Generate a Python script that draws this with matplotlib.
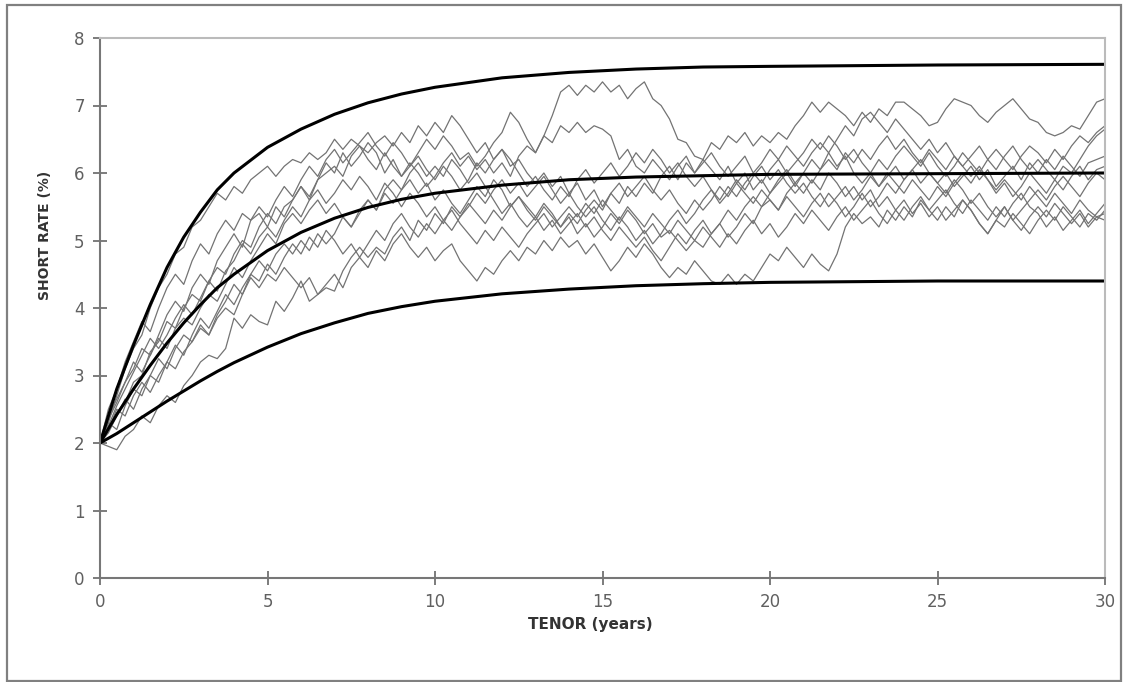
import numpy as np
import matplotlib.pyplot as plt
from matplotlib.patches import Rectangle

# === Smooth curves: expected short rate and the upper / lower bands ===
band_t = [0, 0.5, 1, 1.5, 2, 2.5, 3, 3.5, 4, 5, 6, 7, 8, 9, 10, 12, 14, 16, 18, 20, 25, 30]
upper = [2.0, 2.8, 3.45, 4.05, 4.6, 5.05, 5.42, 5.75, 6.0, 6.38, 6.65, 6.87, 7.04, 7.17,
         7.27, 7.41, 7.49, 7.54, 7.57, 7.58, 7.6, 7.61]
mean = [2.0, 2.42, 2.8, 3.15, 3.48, 3.78, 4.05, 4.3, 4.5, 4.85, 5.12, 5.33, 5.49, 5.61,
        5.7, 5.82, 5.9, 5.94, 5.96, 5.98, 5.99, 6.0]
lower = [2.0, 2.14, 2.3, 2.46, 2.62, 2.77, 2.92, 3.06, 3.19, 3.42, 3.62, 3.78, 3.92, 4.02,
         4.1, 4.21, 4.28, 4.33, 4.36, 4.38, 4.4, 4.4]

# === Simulated paths, quarterly steps from 0 to 30 years ===
tenor = np.linspace(0, 30, 121)

path1 = [2.0, 2.3, 2.7, 3.1, 3.4, 3.6, 4.0, 4.3, 4.5, 4.8, 4.9, 5.2, 5.3, 5.5, 5.7, 5.6,
         5.8, 5.7, 5.9, 6.0, 6.1, 5.95, 6.1, 6.2, 6.15, 6.3, 6.2, 6.3, 6.5, 6.35, 6.5, 6.4,
         6.3, 6.45, 6.55, 6.4, 6.6, 6.45, 6.7, 6.55, 6.75, 6.6, 6.85, 6.7, 6.5, 6.3, 6.45, 6.2,
         6.35, 6.1, 6.2, 6.0, 5.85, 6.0, 5.8, 5.95, 5.7, 5.85, 5.6, 5.75, 5.5, 5.7, 5.55, 5.8,
         5.65, 5.85, 5.7, 5.95, 6.1, 5.9, 6.15, 6.0, 6.2, 6.05, 5.9, 6.1, 5.85, 6.0, 5.75, 5.9,
         5.7, 5.85, 6.0, 5.8, 6.0, 6.2, 6.05, 6.3, 6.1, 6.25, 6.0, 5.85, 6.0, 5.8, 5.95, 6.1,
         5.9, 6.05, 6.2, 6.0, 5.85, 6.0, 5.8, 5.95, 6.1, 5.9, 6.05, 5.8, 5.95, 6.1, 5.9, 6.15,
         6.0, 6.2, 6.05, 6.25, 6.1, 5.95, 6.15, 6.2, 6.25]
path2 = [2.0, 2.2, 2.45, 2.6, 2.9, 3.0, 3.35, 3.5, 3.8, 3.7, 4.0, 4.2, 4.1, 4.4, 4.6, 4.5,
         4.8, 5.0, 4.9, 5.2, 5.4, 5.25, 5.5, 5.6, 5.8, 5.65, 5.9, 6.0, 6.1, 5.95, 6.25, 6.4,
         6.2, 6.05, 6.3, 6.1, 5.95, 6.15, 6.0, 5.8, 5.95, 6.15, 6.3, 6.1, 6.25, 6.05, 6.2, 6.0,
         6.15, 5.95, 6.25, 6.4, 6.3, 6.55, 6.85, 7.2, 7.3, 7.15, 7.3, 7.2, 7.35, 7.2, 7.3, 7.1,
         7.25, 7.35, 7.1, 7.0, 6.8, 6.5, 6.45, 6.25, 6.2, 6.45, 6.35, 6.55, 6.45, 6.6, 6.4, 6.55,
         6.45, 6.6, 6.5, 6.7, 6.85, 7.05, 6.9, 7.05, 6.95, 6.85, 6.7, 6.9, 6.75, 6.95, 6.85, 7.05,
         7.05, 6.95, 6.85, 6.7, 6.75, 6.95, 7.1, 7.05, 7.0, 6.85, 6.75, 6.9, 7.0, 7.1, 6.95, 6.8,
         6.75, 6.6, 6.55, 6.6, 6.7, 6.65, 6.85, 7.05, 7.1]
path3 = [2.0, 2.35, 2.6, 2.9, 3.1, 3.4, 3.3, 3.6, 3.9, 4.1, 3.95, 4.3, 4.5, 4.35, 4.7, 4.9,
         5.1, 4.9, 5.3, 5.4, 5.2, 5.5, 5.35, 5.6, 5.8, 5.6, 5.9, 6.15, 6.0, 6.3, 6.1, 6.25,
         6.45, 6.3, 6.0, 6.2, 5.95, 6.1, 6.3, 6.5, 6.35, 6.55, 6.4, 6.2, 6.3, 6.1, 6.25, 6.45,
         6.6, 6.9, 6.75, 6.5, 6.3, 6.55, 6.45, 6.7, 6.6, 6.75, 6.6, 6.7, 6.65, 6.55, 6.2, 6.35,
         6.1, 6.0, 6.2, 6.05, 5.9, 6.1, 6.25, 6.0, 6.15, 6.3, 6.1, 5.95, 6.1, 6.25, 6.0, 6.15,
         6.35, 6.2, 6.4, 6.25, 6.1, 6.3, 6.45, 6.3, 6.5, 6.7, 6.55, 6.8, 6.9, 6.75, 6.6, 6.8,
         6.65, 6.5, 6.35, 6.5, 6.3, 6.45, 6.25, 6.1, 6.25, 6.4, 6.2, 6.35, 6.2, 6.05, 6.25, 6.4,
         6.3, 6.15, 6.35, 6.2, 6.4, 6.55, 6.45, 6.6, 6.7]
path4 = [2.0, 1.95, 1.9, 2.1, 2.2, 2.4, 2.3, 2.55, 2.7, 2.6, 2.85, 3.0, 3.2, 3.3, 3.25, 3.4,
         3.85, 3.7, 3.9, 3.8, 3.75, 4.1, 3.95, 4.15, 4.4, 4.1, 4.2, 4.3, 4.25, 4.55, 4.75, 4.9,
         4.75, 4.9, 4.8, 5.05, 5.2, 5.0, 5.3, 5.15, 5.4, 5.25, 5.5, 5.35, 5.55, 5.4, 5.25, 5.45,
         5.3, 5.5, 5.65, 5.5, 5.35, 5.55, 5.4, 5.2, 5.35, 5.1, 5.25, 5.05, 5.2, 5.4, 5.25, 5.45,
         5.3, 5.1, 5.25, 5.05, 5.15, 5.0, 4.85, 5.0, 4.9, 5.1, 5.25, 5.05, 5.2, 5.4, 5.25, 5.5,
         5.6, 5.45, 5.7, 5.85, 5.7, 5.9, 5.75, 6.0, 5.85, 5.65, 5.8, 5.6, 5.75, 5.5, 5.65, 5.45,
         5.6, 5.4, 5.55, 5.35, 5.5, 5.3, 5.45, 5.6, 5.45, 5.25, 5.1, 5.3, 5.2, 5.4, 5.25, 5.1,
         5.3, 5.45, 5.3, 5.5, 5.35, 5.2, 5.4, 5.3, 5.45]
path5 = [2.0, 2.2, 2.5, 2.4, 2.7, 2.9, 2.75, 3.0, 3.2, 3.1, 3.35, 3.5, 3.7, 3.6, 3.85, 4.0,
         3.9, 4.2, 4.45, 4.3, 4.5, 4.4, 4.6, 4.45, 4.3, 4.45, 4.2, 4.35, 4.5, 4.3, 4.6, 4.75,
         4.6, 4.85, 4.7, 4.95, 5.1, 4.9, 4.75, 4.9, 4.7, 4.85, 4.95, 4.7, 4.55, 4.4, 4.6, 4.5,
         4.7, 4.85, 4.7, 4.9, 4.8, 5.0, 4.85, 5.05, 4.9, 5.0, 4.8, 4.95, 4.75, 4.55, 4.7, 4.9,
         4.75, 4.95, 4.8, 4.6, 4.45, 4.6, 4.5, 4.7, 4.55, 4.4, 4.35, 4.5, 4.35, 4.5, 4.4, 4.6,
         4.8, 4.7, 4.9, 4.75, 4.6, 4.8, 4.65, 4.55, 4.8, 5.2, 5.4, 5.25, 5.35, 5.2, 5.45, 5.3,
         5.5, 5.35, 5.6, 5.45, 5.3, 5.5, 5.35, 5.6, 5.45, 5.25, 5.1, 5.3, 5.5, 5.3, 5.15, 5.35,
         5.5, 5.35, 5.55, 5.4, 5.25, 5.4, 5.2, 5.35, 5.3]
path6 = [2.0, 2.4, 2.65, 2.9, 3.2, 3.05, 3.3, 3.55, 3.4, 3.7, 3.85, 3.75, 4.0, 4.2, 4.1, 4.35,
         4.6, 4.45, 4.7, 4.9, 5.1, 4.95, 5.25, 5.4, 5.25, 5.45, 5.6, 5.4, 5.55, 5.35, 5.2, 5.4,
         5.6, 5.45, 5.7, 5.55, 5.75, 5.9, 5.7, 5.85, 5.6, 5.75, 5.55, 5.4, 5.6, 5.8, 5.65, 5.9,
         5.75, 5.5, 5.65, 5.45, 5.3, 5.5, 5.35, 5.2, 5.4, 5.25, 5.45, 5.6, 5.45, 5.7, 5.85, 5.65,
         5.8, 5.95, 5.75, 5.6, 5.75, 5.55, 5.4, 5.6, 5.45, 5.6, 5.8, 5.65, 5.85, 5.7, 5.55, 5.75,
         5.6, 5.45, 5.65, 5.5, 5.35, 5.55, 5.7, 5.5, 5.65, 5.8, 5.6, 5.75, 5.95, 5.8, 6.0, 5.85,
         5.7, 5.9, 5.75, 5.6, 5.8, 5.65, 5.85, 6.0, 5.85, 6.05, 5.9, 5.7, 5.85, 5.65, 5.8, 6.0,
         5.85, 5.7, 5.9, 5.75, 5.95, 6.1, 5.9, 6.05, 6.1]
path7 = [2.0, 2.3, 2.2, 2.55, 2.8, 2.7, 3.0, 3.25, 3.1, 3.4, 3.6, 3.5, 3.75, 3.6, 3.9, 4.1,
         4.35, 4.2, 4.5, 4.7, 4.55, 4.8, 4.95, 4.8, 5.0, 4.85, 5.1, 4.95, 5.1, 5.35, 5.2, 5.45,
         5.6, 5.45, 5.75, 5.9, 5.75, 6.0, 6.15, 5.95, 6.1, 5.95, 6.2, 6.05, 5.85, 6.0, 5.8, 5.6,
         5.4, 5.55, 5.35, 5.2, 5.35, 5.15, 5.3, 5.1, 5.25, 5.4, 5.2, 5.35, 5.15, 5.0, 5.2, 5.05,
         4.9, 5.05, 4.85, 4.7, 4.9, 5.1, 4.95, 5.15, 5.3, 5.1, 5.25, 5.45, 5.3, 5.5, 5.65, 5.5,
         5.7, 5.9, 6.05, 5.85, 6.0, 5.85, 6.05, 6.2, 6.05, 6.3, 6.15, 6.35, 6.2, 6.4, 6.55, 6.35,
         6.5, 6.3, 6.15, 6.35, 6.2, 6.05, 6.25, 6.1, 5.95, 6.1, 5.9, 5.75, 5.9, 5.75, 5.6, 5.8,
         5.65, 5.5, 5.7, 5.55, 5.4, 5.6, 5.45, 5.35, 5.4]
path8 = [2.0, 2.5, 2.8, 3.2, 3.5, 3.8, 3.65, 4.0, 4.3, 4.5, 4.35, 4.7, 4.95, 4.8, 5.1, 5.3,
         5.15, 5.4, 5.3, 5.5, 5.35, 5.6, 5.8, 5.65, 5.9, 6.1, 5.95, 6.2, 6.35, 6.15, 6.3, 6.45,
         6.6, 6.4, 6.25, 6.45, 6.3, 6.1, 6.25, 6.05, 5.9, 6.1, 5.95, 5.75, 5.9, 6.15, 6.0, 6.2,
         6.35, 6.2, 6.0, 5.8, 5.95, 5.75, 5.6, 5.8, 5.65, 5.9, 6.05, 5.85, 6.0, 6.15, 5.95, 6.1,
         6.3, 6.15, 6.35, 6.2, 6.0, 6.15, 5.95, 5.8, 5.95, 5.75, 5.6, 5.8, 5.65, 5.85, 6.0, 5.85,
         6.05, 6.2, 6.0, 6.15, 6.3, 6.5, 6.35, 6.55, 6.4, 6.2, 6.35, 6.15, 6.0, 6.2, 6.05, 6.25,
         6.4, 6.25, 6.1, 6.3, 6.1, 5.95, 6.1, 6.3, 6.15, 6.0, 6.2, 6.05, 6.25, 6.4, 6.2, 6.05,
         6.2, 6.05, 5.9, 6.1, 6.0, 6.2, 6.4, 6.55, 6.65]
path9 = [2.0, 2.15, 2.4, 2.65, 2.5, 2.8, 3.0, 2.9, 3.2, 3.45, 3.3, 3.6, 3.85, 3.7, 3.95, 4.2,
         4.05, 4.3, 4.5, 4.4, 4.65, 4.5, 4.75, 4.95, 4.8, 5.05, 4.9, 5.15, 5.0, 4.8, 4.95, 4.75,
         4.95, 5.15, 5.0, 5.25, 5.4, 5.2, 5.05, 5.25, 5.1, 5.3, 5.45, 5.25, 5.1, 4.95, 5.15, 5.0,
         5.2, 5.05, 4.9, 5.1, 5.25, 5.4, 5.2, 5.35, 5.5, 5.35, 5.55, 5.4, 5.6, 5.45, 5.3, 5.5,
         5.35, 5.2, 5.4, 5.25, 5.1, 5.3, 5.15, 5.0, 5.2, 5.05, 4.9, 5.1, 4.95, 5.15, 5.3, 5.1,
         5.25, 5.05, 5.2, 5.4, 5.25, 5.45, 5.3, 5.15, 5.35, 5.5, 5.3, 5.45, 5.6, 5.4, 5.25, 5.45,
         5.3, 5.5, 5.65, 5.45, 5.6, 5.75, 5.55, 5.4, 5.6, 5.45, 5.3, 5.5, 5.35, 5.55, 5.7, 5.5,
         5.4, 5.2, 5.35, 5.15, 5.3, 5.45, 5.25, 5.4, 5.55]
path10 = [2.0, 2.25, 2.55, 2.8, 3.05, 3.3, 3.55, 3.4, 3.6, 3.85, 4.05, 3.9, 4.15, 4.4, 4.25, 4.55,
          4.7, 4.95, 4.8, 5.05, 5.2, 5.05, 5.3, 5.5, 5.35, 5.6, 5.75, 5.55, 5.7, 5.9, 5.75, 5.95,
          5.8, 5.6, 5.85, 5.7, 5.5, 5.7, 5.55, 5.35, 5.5, 5.3, 5.15, 5.35, 5.5, 5.7, 5.55, 5.75,
          5.9, 5.7, 5.85, 5.65, 5.8, 5.95, 5.75, 5.55, 5.7, 5.5, 5.35, 5.5, 5.3, 5.15, 5.35, 5.2,
          5.0, 5.15, 4.95, 5.1, 5.3, 5.45, 5.25, 5.4, 5.6, 5.75, 5.55, 5.7, 5.9, 5.75, 5.95, 6.1,
          5.9, 6.05, 5.85, 5.7, 5.85, 5.65, 5.5, 5.7, 5.55, 5.35, 5.5, 5.7, 5.5, 5.65, 5.85, 5.7,
          5.9, 6.05, 5.85, 6.0, 5.85, 5.7, 5.9, 5.75, 5.55, 5.7, 5.5, 5.35, 5.5, 5.3, 5.45, 5.6,
          5.75, 5.6, 5.8, 5.95, 5.8, 5.65, 5.85, 6.0, 5.9]

paths = [path1, path2, path3, path4, path5, path6, path7, path8, path9, path10]

# === Figure ===
W, H = 1129, 682
fig = plt.figure(figsize=(W / 100, H / 100), dpi=100)
ax = fig.add_axes([100 / W, 1 - 578 / H, 1005 / W, 540 / H])

for p in paths:
    ax.plot(tenor, p, color="#737373", lw=0.9)

for curve in (upper, mean, lower):
    ax.plot(band_t, curve, color="black", lw=2.2, solid_capstyle="butt")

ax.set_xlim(0, 30)
ax.set_ylim(0, 8)
ax.set_xticks(range(0, 31, 5))
ax.set_yticks(range(0, 9))

for side in ("left", "bottom"):
    ax.spines[side].set_color("#777777")
    ax.spines[side].set_linewidth(1.5)
for side in ("top", "right"):
    ax.spines[side].set_color("#bbbbbb")
    ax.spines[side].set_linewidth(1.5)

ax.tick_params(direction="inout", length=10, width=1.2, color="#666666",
               labelsize=12, labelcolor="#606060", pad=6)

fig.text(590 / W, 1 - 625 / H, "TENOR (years)", ha="center", va="center",
         fontsize=11, fontweight="bold", color="#333333")
fig.text(45 / W, 1 - 235 / H, "SHORT RATE (%)", ha="center", va="center",
         rotation=90, fontsize=10, fontweight="bold", color="#333333")

# outer chart border
fig.patches.append(Rectangle((7 / W, 1 - 681 / H), 1114 / W, 676 / H,
                             transform=fig.transFigure, fill=False,
                             edgecolor="#808080", lw=1.6))

fig.savefig("out.png", dpi=100)
